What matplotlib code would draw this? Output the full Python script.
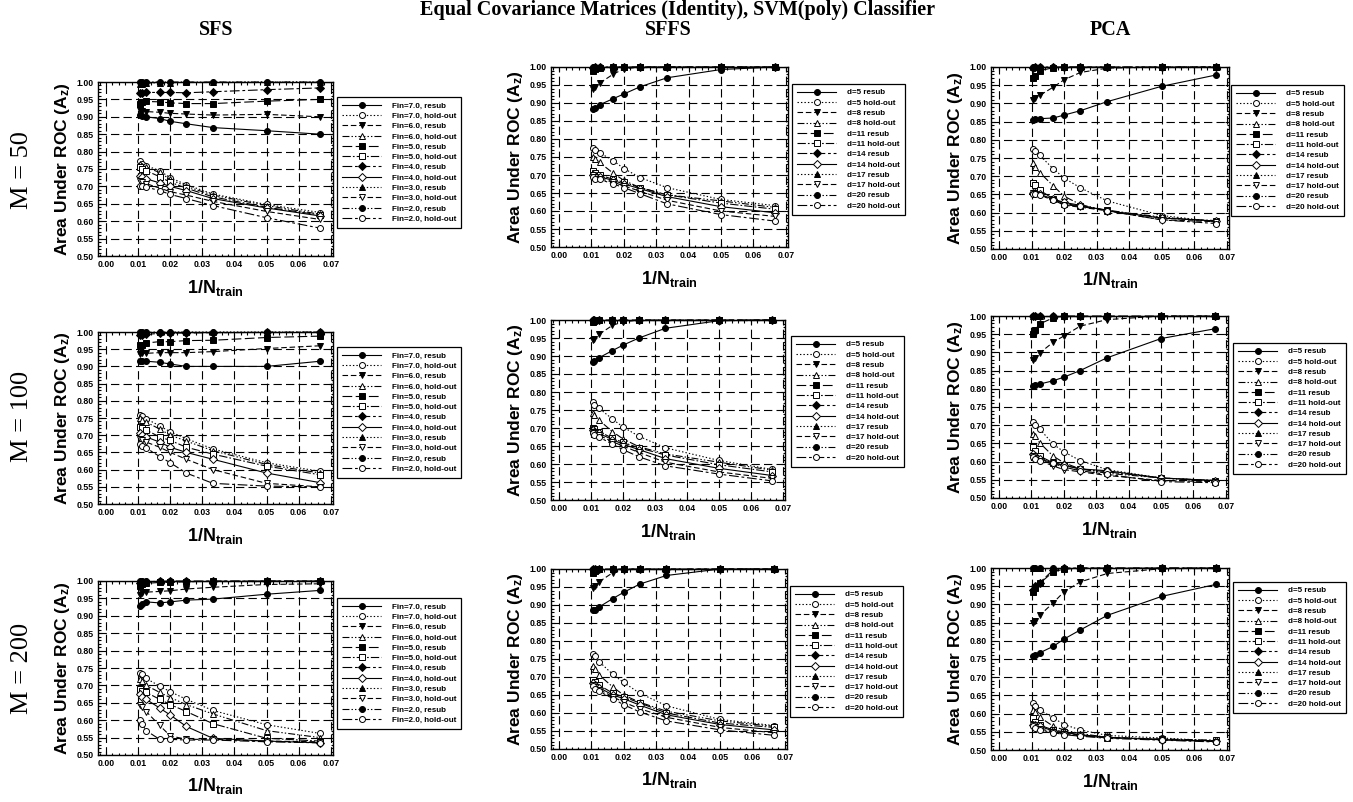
import matplotlib
matplotlib.use('Agg')
import matplotlib.pyplot as plt
from matplotlib.ticker import MultipleLocator, FormatStrFormatter

plt.rcParams['font.family'] = ['Liberation Sans', 'DejaVu Sans']
plt.rcParams['font.weight'] = 'bold'
plt.rcParams['mathtext.fontset'] = 'custom'
plt.rcParams['mathtext.rm'] = 'Liberation Sans:bold'
plt.rcParams['mathtext.bf'] = 'Liberation Sans:bold'
plt.rcParams['mathtext.it'] = 'Liberation Sans:bold'
plt.rcParams['mathtext.default'] = 'bf'
plt.rcParams['lines.scale_dashes'] = False

# ---------------- data ----------------
INV_NTRAIN = [0.0105, 0.0111, 0.0125, 0.0167, 0.0200, 0.0250, 0.0333, 0.0500, 0.0667]

SFS_LEVELS = ['Fin=7.0', 'Fin=6.0', 'Fin=5.0', 'Fin=4.0', 'Fin=3.0', 'Fin=2.0']
DIM_LEVELS = ['d=5', 'd=8', 'd=11', 'd=14', 'd=17', 'd=20']

COLUMN_TITLES = ['SFS', 'SFFS', 'PCA']
ROW_TITLES = ['M = 50', 'M = 100', 'M = 200']

# SFS, M=50
SFS50_RESUB = [
    [0.905, 0.903, 0.900, 0.895, 0.887, 0.880, 0.869, 0.860, 0.850],
    [0.920, 0.918, 0.915, 0.913, 0.910, 0.908, 0.905, 0.907, 0.900],
    [0.937, 0.943, 0.944, 0.943, 0.940, 0.938, 0.938, 0.945, 0.950],
    [0.967, 0.968, 0.970, 0.970, 0.970, 0.969, 0.972, 0.978, 0.983],
    [0.993, 0.995, 0.997, 0.998, 0.998, 0.999, 0.999, 1.000, 1.000],
    [0.999, 1.000, 1.000, 1.000, 1.000, 1.000, 1.000, 1.000, 1.000],
]
SFS50_HOLD = [
    [0.772, 0.765, 0.760, 0.745, 0.725, 0.705, 0.678, 0.648, 0.625],
    [0.765, 0.760, 0.755, 0.740, 0.720, 0.700, 0.675, 0.645, 0.620],
    [0.755, 0.750, 0.745, 0.728, 0.712, 0.695, 0.670, 0.640, 0.618],
    [0.730, 0.728, 0.722, 0.710, 0.700, 0.688, 0.665, 0.638, 0.615],
    [0.715, 0.712, 0.708, 0.695, 0.685, 0.675, 0.657, 0.628, 0.605],
    [0.700, 0.700, 0.698, 0.688, 0.677, 0.665, 0.645, 0.610, 0.580],
]
# SFS, M=100
SFS100_RESUB = [
    [0.917, 0.915, 0.915, 0.912, 0.907, 0.900, 0.900, 0.900, 0.915],
    [0.937, 0.938, 0.938, 0.940, 0.940, 0.940, 0.943, 0.952, 0.960],
    [0.962, 0.963, 0.968, 0.972, 0.972, 0.975, 0.976, 0.984, 0.988],
    [0.990, 0.992, 0.993, 0.996, 0.997, 0.997, 0.998, 0.999, 1.000],
    [0.997, 0.998, 0.999, 1.000, 1.000, 1.000, 1.000, 1.000, 1.000],
    [1.000, 1.000, 1.000, 1.000, 1.000, 1.000, 1.000, 1.000, 1.000],
]
SFS100_HOLD = [
    [0.760, 0.755, 0.748, 0.727, 0.710, 0.690, 0.660, 0.620, 0.595],
    [0.750, 0.745, 0.738, 0.718, 0.700, 0.683, 0.655, 0.615, 0.590],
    [0.725, 0.722, 0.715, 0.695, 0.685, 0.665, 0.645, 0.610, 0.585],
    [0.705, 0.700, 0.695, 0.680, 0.665, 0.650, 0.630, 0.590, 0.562],
    [0.690, 0.685, 0.680, 0.665, 0.650, 0.630, 0.600, 0.560, 0.550],
    [0.675, 0.670, 0.663, 0.638, 0.620, 0.590, 0.560, 0.552, 0.550],
]
# SFS, M=200
SFS200_RESUB = [
    [0.928, 0.935, 0.940, 0.937, 0.940, 0.945, 0.948, 0.962, 0.973],
    [0.960, 0.965, 0.968, 0.970, 0.972, 0.977, 0.982, 0.990, 0.992],
    [0.985, 0.990, 0.993, 0.996, 0.996, 0.998, 0.999, 1.000, 1.000],
    [0.995, 0.997, 0.998, 0.999, 1.000, 1.000, 1.000, 1.000, 1.000],
    [1.000, 1.000, 1.000, 1.000, 1.000, 1.000, 1.000, 1.000, 1.000],
    [1.000, 1.000, 1.000, 1.000, 1.000, 1.000, 1.000, 1.000, 1.000],
]
SFS200_HOLD = [
    [0.737, 0.732, 0.720, 0.698, 0.682, 0.660, 0.628, 0.587, 0.562],
    [0.718, 0.712, 0.700, 0.680, 0.665, 0.645, 0.618, 0.570, 0.550],
    [0.690, 0.685, 0.680, 0.660, 0.645, 0.625, 0.590, 0.548, 0.540],
    [0.675, 0.668, 0.660, 0.635, 0.615, 0.582, 0.548, 0.540, 0.535],
    [0.645, 0.638, 0.625, 0.585, 0.555, 0.545, 0.545, 0.540, 0.538],
    [0.600, 0.590, 0.570, 0.545, 0.545, 0.543, 0.543, 0.538, 0.535],
]
# SFFS, M=50
SFFS50_RESUB = [
    [0.883, 0.885, 0.895, 0.912, 0.925, 0.945, 0.970, 0.993, 1.000],
    [0.940, 0.945, 0.955, 0.980, 0.995, 1.000, 1.000, 1.000, 1.000],
    [0.990, 0.995, 0.998, 1.000, 1.000, 1.000, 1.000, 1.000, 1.000],
    [0.998, 1.000, 1.000, 1.000, 1.000, 1.000, 1.000, 1.000, 1.000],
    [1.000, 1.000, 1.000, 1.000, 1.000, 1.000, 1.000, 1.000, 1.000],
    [1.000, 1.000, 1.000, 1.000, 1.000, 1.000, 1.000, 1.000, 1.000],
]
SFFS50_HOLD = [
    [0.775, 0.770, 0.762, 0.740, 0.718, 0.693, 0.665, 0.632, 0.615],
    [0.750, 0.745, 0.735, 0.705, 0.685, 0.665, 0.645, 0.628, 0.610],
    [0.710, 0.705, 0.700, 0.688, 0.680, 0.665, 0.645, 0.622, 0.605],
    [0.700, 0.698, 0.695, 0.685, 0.675, 0.662, 0.640, 0.612, 0.595],
    [0.700, 0.695, 0.690, 0.680, 0.670, 0.655, 0.630, 0.600, 0.585],
    [0.695, 0.690, 0.688, 0.675, 0.665, 0.648, 0.620, 0.590, 0.572],
]
# SFFS, M=100
SFFS100_RESUB = [
    [0.882, 0.885, 0.895, 0.915, 0.930, 0.950, 0.977, 0.998, 1.000],
    [0.945, 0.948, 0.960, 0.985, 0.995, 1.000, 1.000, 1.000, 1.000],
    [0.995, 0.998, 1.000, 1.000, 1.000, 1.000, 1.000, 1.000, 1.000],
    [1.000, 1.000, 1.000, 1.000, 1.000, 1.000, 1.000, 1.000, 1.000],
    [1.000, 1.000, 1.000, 1.000, 1.000, 1.000, 1.000, 1.000, 1.000],
    [1.000, 1.000, 1.000, 1.000, 1.000, 1.000, 1.000, 1.000, 1.000],
]
SFFS100_HOLD = [
    [0.773, 0.765, 0.755, 0.725, 0.703, 0.677, 0.645, 0.610, 0.585],
    [0.742, 0.735, 0.722, 0.690, 0.670, 0.648, 0.628, 0.605, 0.583],
    [0.700, 0.697, 0.690, 0.672, 0.660, 0.645, 0.625, 0.598, 0.578],
    [0.695, 0.690, 0.685, 0.668, 0.655, 0.640, 0.615, 0.588, 0.568],
    [0.690, 0.685, 0.680, 0.662, 0.650, 0.632, 0.605, 0.578, 0.560],
    [0.685, 0.680, 0.675, 0.655, 0.640, 0.620, 0.595, 0.572, 0.553],
]
# SFFS, M=200
SFFS200_RESUB = [
    [0.885, 0.887, 0.895, 0.918, 0.935, 0.958, 0.982, 1.000, 1.000],
    [0.948, 0.952, 0.965, 0.990, 1.000, 1.000, 1.000, 1.000, 1.000],
    [0.990, 0.995, 1.000, 1.000, 1.000, 1.000, 1.000, 1.000, 1.000],
    [1.000, 1.000, 1.000, 1.000, 1.000, 1.000, 1.000, 1.000, 1.000],
    [1.000, 1.000, 1.000, 1.000, 1.000, 1.000, 1.000, 1.000, 1.000],
    [1.000, 1.000, 1.000, 1.000, 1.000, 1.000, 1.000, 1.000, 1.000],
]
SFFS200_HOLD = [
    [0.763, 0.757, 0.742, 0.707, 0.685, 0.655, 0.620, 0.582, 0.565],
    [0.730, 0.722, 0.705, 0.672, 0.650, 0.630, 0.605, 0.578, 0.563],
    [0.692, 0.687, 0.677, 0.655, 0.645, 0.628, 0.600, 0.572, 0.560],
    [0.683, 0.678, 0.670, 0.650, 0.640, 0.622, 0.595, 0.568, 0.553],
    [0.678, 0.672, 0.665, 0.645, 0.630, 0.612, 0.588, 0.560, 0.545],
    [0.675, 0.668, 0.660, 0.640, 0.623, 0.603, 0.578, 0.553, 0.538],
]
# PCA, M=50
PCA50_RESUB = [
    [0.855, 0.857, 0.858, 0.860, 0.868, 0.880, 0.905, 0.947, 0.978],
    [0.910, 0.915, 0.922, 0.945, 0.965, 0.985, 0.997, 1.000, 1.000],
    [0.970, 0.975, 0.990, 0.998, 1.000, 1.000, 1.000, 1.000, 1.000],
    [0.998, 1.000, 1.000, 1.000, 1.000, 1.000, 1.000, 1.000, 1.000],
    [1.000, 1.000, 1.000, 1.000, 1.000, 1.000, 1.000, 1.000, 1.000],
    [1.000, 1.000, 1.000, 1.000, 1.000, 1.000, 1.000, 1.000, 1.000],
]
PCA50_HOLD = [
    [0.775, 0.770, 0.757, 0.720, 0.695, 0.668, 0.632, 0.592, 0.575],
    [0.735, 0.725, 0.710, 0.673, 0.645, 0.622, 0.605, 0.588, 0.575],
    [0.680, 0.675, 0.662, 0.637, 0.625, 0.618, 0.607, 0.585, 0.578],
    [0.655, 0.655, 0.650, 0.637, 0.628, 0.620, 0.605, 0.585, 0.577],
    [0.655, 0.652, 0.648, 0.635, 0.620, 0.615, 0.605, 0.580, 0.575],
    [0.652, 0.650, 0.647, 0.635, 0.622, 0.617, 0.605, 0.580, 0.570],
]
# PCA, M=100
PCA100_RESUB = [
    [0.808, 0.810, 0.813, 0.822, 0.832, 0.850, 0.885, 0.938, 0.965],
    [0.880, 0.885, 0.898, 0.928, 0.945, 0.972, 0.990, 1.000, 1.000],
    [0.950, 0.962, 0.978, 0.995, 1.000, 1.000, 1.000, 1.000, 1.000],
    [1.000, 1.000, 1.000, 1.000, 1.000, 1.000, 1.000, 1.000, 1.000],
    [1.000, 1.000, 1.000, 1.000, 1.000, 1.000, 1.000, 1.000, 1.000],
    [1.000, 1.000, 1.000, 1.000, 1.000, 1.000, 1.000, 1.000, 1.000],
]
PCA100_HOLD = [
    [0.710, 0.700, 0.690, 0.648, 0.627, 0.603, 0.578, 0.555, 0.548],
    [0.675, 0.670, 0.652, 0.615, 0.597, 0.580, 0.568, 0.555, 0.545],
    [0.640, 0.628, 0.615, 0.597, 0.590, 0.580, 0.572, 0.555, 0.548],
    [0.620, 0.615, 0.607, 0.597, 0.590, 0.580, 0.575, 0.555, 0.548],
    [0.615, 0.610, 0.603, 0.588, 0.578, 0.572, 0.562, 0.548, 0.545],
    [0.612, 0.608, 0.603, 0.595, 0.585, 0.575, 0.565, 0.545, 0.542],
]
# PCA, M=200
PCA200_RESUB = [
    [0.757, 0.760, 0.767, 0.785, 0.805, 0.830, 0.870, 0.922, 0.955],
    [0.850, 0.855, 0.870, 0.905, 0.935, 0.962, 0.985, 0.998, 1.000],
    [0.935, 0.945, 0.958, 0.990, 0.997, 1.000, 1.000, 1.000, 1.000],
    [0.940, 0.950, 0.960, 0.995, 1.000, 1.000, 1.000, 1.000, 1.000],
    [1.000, 1.000, 1.000, 1.000, 1.000, 1.000, 1.000, 1.000, 1.000],
    [1.000, 1.000, 1.000, 1.000, 1.000, 1.000, 1.000, 1.000, 1.000],
]
PCA200_HOLD = [
    [0.630, 0.620, 0.610, 0.588, 0.570, 0.555, 0.540, 0.533, 0.525],
    [0.610, 0.605, 0.590, 0.565, 0.555, 0.545, 0.535, 0.530, 0.525],
    [0.587, 0.578, 0.568, 0.555, 0.550, 0.540, 0.533, 0.530, 0.527],
    [0.570, 0.568, 0.565, 0.552, 0.548, 0.542, 0.535, 0.528, 0.525],
    [0.568, 0.563, 0.558, 0.550, 0.545, 0.540, 0.535, 0.528, 0.523],
    [0.565, 0.560, 0.555, 0.548, 0.542, 0.538, 0.532, 0.527, 0.522],
]

PANELS = [
    [(SFS50_RESUB, SFS50_HOLD), (SFFS50_RESUB, SFFS50_HOLD), (PCA50_RESUB, PCA50_HOLD)],
    [(SFS100_RESUB, SFS100_HOLD), (SFFS100_RESUB, SFFS100_HOLD), (PCA100_RESUB, PCA100_HOLD)],
    [(SFS200_RESUB, SFS200_HOLD), (SFFS200_RESUB, SFFS200_HOLD), (PCA200_RESUB, PCA200_HOLD)],
]

# ---------------- style ----------------
W, H = 1353, 802
DDOT = (0, (5, 1.5, 1, 1.5, 1, 1.5))
STYLES = [  # (linestyle, marker, filled) in legend order
    ('-', 'o', True),
    ((0, (1, 1.5)), 'o', False),
    ((0, (4, 2)), 'v', True),
    (DDOT, '^', False),
    ((0, (7, 2.5)), 's', True),
    ((0, (6, 1.5, 1.2, 1.5)), 's', False),
    ((0, (7, 2, 2, 2)), 'D', True),
    ('-', 'D', False),
    ((0, (1, 1.5)), '^', True),
    ((0, (4, 2)), 'v', False),
    (DDOT, 'o', True),
    ((0, (7, 2, 2, 2)), 'o', False),
]

# pixel boxes: (left, top, right, bottom)
AX_BOX = [
    [(98, 82, 333, 256), (551, 67, 788, 247), (991, 67, 1229, 249)],
    [(98, 332, 333, 504), (551, 320, 785, 500), (991, 316, 1228, 498)],
    [(98, 581, 333, 755), (551, 569, 787, 749), (991, 568, 1229, 750)],
]
LEG_POS = [
    [(337, 97), (792, 84), (1231, 85)],
    [(337, 347), (791, 336), (1233, 343)],
    [(337, 598), (790, 586), (1233, 582)],
]

fig = plt.figure(figsize=(W / 100, H / 100), dpi=100)

for r in range(3):
    for c in range(3):
        l, t, rr, b = AX_BOX[r][c]
        ax = fig.add_axes([l / W, 1 - b / H, (rr - l) / W, (b - t) / H])
        resub, hold = PANELS[r][c]
        levels = SFS_LEVELS if c == 0 else DIM_LEVELS
        sep = ', ' if c == 0 else ' '
        handles = []
        for i, lev in enumerate(levels):
            for k, (series, kind) in enumerate(((resub[i], 'resub'), (hold[i], 'hold-out'))):
                ls, mk, filled = STYLES[2 * i + k]
                ms = 3.6 if mk == 'D' else 4.3
                h, = ax.plot(INV_NTRAIN, series, linestyle=ls, color='black', lw=0.8,
                             marker=mk, markersize=ms, markeredgewidth=0.7,
                             markerfacecolor='black' if filled else 'white',
                             markeredgecolor='black', label=f'{lev}{sep}{kind}',
                             clip_on=False, zorder=3)
                handles.append(h)
        ax.set_xlim(-0.0025, 0.0707)
        ax.set_ylim(0.5, 1.0)
        ax.xaxis.set_major_locator(MultipleLocator(0.01))
        ax.xaxis.set_minor_locator(MultipleLocator(0.002))
        ax.yaxis.set_major_locator(MultipleLocator(0.05))
        ax.yaxis.set_minor_locator(MultipleLocator(0.01))
        ax.xaxis.set_major_formatter(FormatStrFormatter('%.2f'))
        ax.yaxis.set_major_formatter(FormatStrFormatter('%.2f'))
        ax.tick_params(which='both', direction='in', top=True, right=True,
                       labelsize=6.3, width=0.8, pad=3)
        ax.tick_params(which='major', length=3)
        ax.tick_params(which='minor', length=1.8)
        for lab in ax.get_xticklabels() + ax.get_yticklabels():
            lab.set_fontweight('bold')
        ax.grid(True, which='major', color='black', linestyle=(0, (6, 3)), lw=0.8)
        ax.set_axisbelow(True)
        for sp in ax.spines.values():
            sp.set_linewidth(1.0)
        ax.set_ylabel('Area Under ROC (A$_z$)', fontsize=12.5, fontweight='bold', labelpad=3)
        ax.set_xlabel('1/N$_{train}$', fontsize=13, fontweight='bold', labelpad=6)

        lx, ly = LEG_POS[r][c]
        leg = ax.legend(handles=handles, loc='upper left',
                        bbox_to_anchor=(lx / W, 1 - ly / H), bbox_transform=fig.transFigure,
                        prop={'size': 5.8, 'weight': 'bold'}, handlelength=4.9,
                        handletextpad=1.3, labelspacing=0.33, borderpad=0.6,
                        borderaxespad=0, fancybox=False, framealpha=1, edgecolor='black')
        leg.get_frame().set_linewidth(0.9)

fig.text(677 / W, 1 - 10 / H,
         'Equal Covariance Matrices (Identity), SVM(poly) Classifier',
         ha='center', va='center', fontsize=14.5, fontweight='bold',
         family=['Liberation Serif', 'DejaVu Serif'])
for c, (title, xc) in enumerate(zip(COLUMN_TITLES, [216, 668, 1110])):
    fig.text(xc / W, 1 - 30 / H, title, ha='center', va='center', fontsize=14.5,
             fontweight='bold', family=['Liberation Serif', 'DejaVu Serif'])
for r, (title, yc) in enumerate(zip(ROW_TITLES, [170, 416, 668])):
    fig.text(22 / W, 1 - yc / H, title, ha='center', va='center', fontsize=19,
             fontweight='normal', rotation=90, family=['Liberation Serif', 'DejaVu Serif'])

fig.savefig('out.png', dpi=100)
